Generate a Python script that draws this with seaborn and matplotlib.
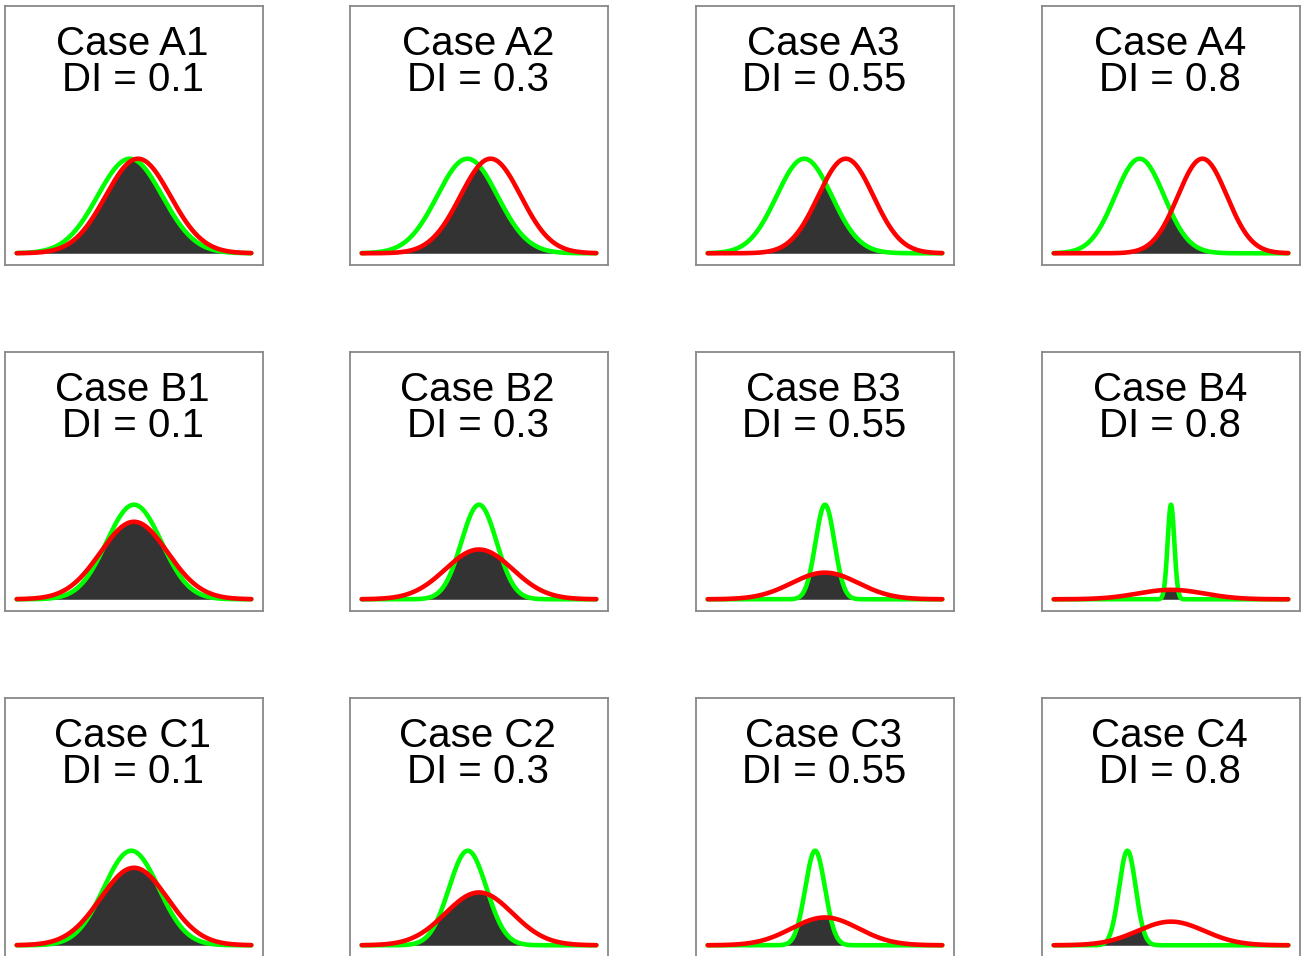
import numpy as np
import pandas as pd
import seaborn as sns
import matplotlib
matplotlib.use("Agg")
import matplotlib.pyplot as plt

# Panel labels and DI values
cases = ["A1", "A2", "A3", "A4",
         "B1", "B2", "B3", "B4",
         "C1", "C2", "C3", "C4"]
di_values = [0.1, 0.3, 0.55, 0.8,
             0.1, 0.3, 0.55, 0.8,
             0.1, 0.3, 0.55, 0.8]

# Normal distribution parameters (green vs red)
green_mean = [-0.125, -0.385, -0.755, -1.28,
              0.0, 0.0, 0.0, 0.0,
              -0.1, -0.6, -1.0, -5.2]
green_sd = [1.0, 1.0, 1.0, 1.0,
            1.0, 1.0, 1.0, 1.0,
            1.0, 1.0, 1.0, 1.0]
red_mean = [0.125, 0.385, 0.755, 1.28,
            0.0, 0.0, 0.0, 0.0,
            0.0, 0.0, 0.0, 0.0]
red_sd = [1.0, 1.0, 1.0, 1.0,
          1.22, 1.9, 3.55, 10.0,
          1.22, 1.79, 3.4, 4.0]

GREEN = "#00ff00"
RED = "#ff0000"
FILL = "#333333"

sns.set_style("white")
plt.rcParams["font.family"] = ["Liberation Sans", "DejaVu Sans"]

W, H = 1303, 956
fig = plt.figure(figsize=(W / 100, H / 100), dpi=100)

col_left = [5, 350, 696, 1042]
row_top = [6, 352, 698]
pw, ph = 258, 259


def pdf(x, m, s):
    return np.exp(-0.5 * ((x - m) / s) ** 2) / (s * np.sqrt(2 * np.pi))


for i, case in enumerate(cases):
    r, c = divmod(i, 4)
    ax = fig.add_axes([col_left[c] / W, 1 - (row_top[r] + ph) / H, pw / W, ph / H])

    lo = min(green_mean[i] - 3.5 * green_sd[i], red_mean[i] - 3.5 * red_sd[i])
    hi = max(green_mean[i] + 3.5 * green_sd[i], red_mean[i] + 3.5 * red_sd[i])
    x = np.linspace(lo, hi, 1500)
    g = pdf(x, green_mean[i], green_sd[i])
    rd = pdf(x, red_mean[i], red_sd[i])
    df = pd.DataFrame({
        "x": np.concatenate([x, x]),
        "density": np.concatenate([g, rd]),
        "group": ["green"] * len(x) + ["red"] * len(x),
    })

    ax.fill_between(x, 0, np.minimum(g, rd), color=FILL, linewidth=0, zorder=1)
    sns.lineplot(data=df, x="x", y="density", hue="group",
                 palette={"green": GREEN, "red": RED}, linewidth=3.3,
                 legend=False, ax=ax, sort=False, estimator=None, zorder=2)

    peak = max(g.max(), rd.max())
    span = hi - lo
    ax.set_xlim(lo - 0.05 * span, hi + 0.05 * span)
    ax.set_ylim(-0.124 * peak, 2.615 * peak)
    ax.set_xticks([])
    ax.set_yticks([])
    ax.set_xlabel("")
    ax.set_ylabel("")
    for sp in ax.spines.values():
        sp.set_visible(True)
        sp.set_color("#888888")
        sp.set_linewidth(1.3)

    ax.text(0.495, 0.811, f"Case {case}", transform=ax.transAxes,
            ha="center", va="baseline", fontsize=29, color="black")
    ax.text(0.495, 0.673, f"DI = {di_values[i]:g}", transform=ax.transAxes,
            ha="center", va="baseline", fontsize=29, color="black")

fig.savefig("out.png", dpi=100)
